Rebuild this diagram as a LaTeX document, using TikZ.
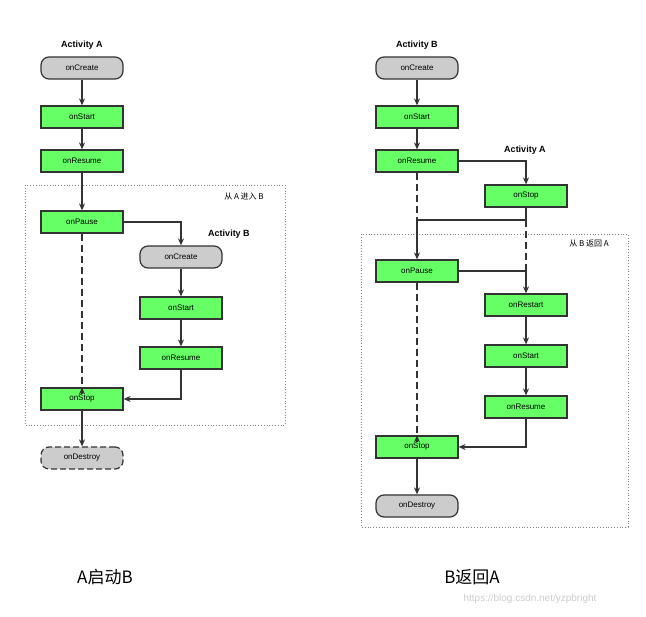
\documentclass[tikz,border=0pt]{standalone}
\usepackage{fontspec}
\setmainfont{Liberation Sans}
\newfontfamily\cjk{Noto Sans CJK SC}
\usetikzlibrary{arrows.meta}
\definecolor{gr}{HTML}{66FF66}
\definecolor{gy}{HTML}{CCCCCC}
\definecolor{ln}{HTML}{333333}
\begin{document}
\begin{tikzpicture}[x=1pt,y=-1pt,
 box/.style={draw=ln,line width=1.2pt,fill=gr,minimum width=82pt,minimum height=22pt,inner sep=0pt,font=\fontsize{8}{9}\selectfont},
 rbox/.style={box,fill=gy,rounded corners=8pt},
 ttl/.style={font=\bfseries\fontsize{9}{10}\selectfont},
 arr/.style={draw=ln,line width=1.2pt,-{Stealth[length=7pt,width=6pt]}},
 ln/.style={draw=ln,line width=1.2pt},
 dl/.style={draw=ln,line width=1.2pt,dash pattern=on 7pt off 4pt},
 frm/.style={draw=gray,dotted,line width=0.8pt},
 lab/.style={font=\cjk\fontsize{8}{9}\selectfont},
 captxt/.style={font=\cjk\fontsize{17}{19}\selectfont}]
\useasboundingbox (0,0) rectangle (646,617);
% left
\draw[frm] (25,185) rectangle (285,425);
\node[lab] (l1) at (244,197) {从 A 进入 B};
\node[ttl] (ta) at (82,45) {Activity A};
\node[rbox] (ac) at (82,68) {onCreate};
\node[box] (as) at (82,117) {onStart};
\node[box] (ar) at (82,161) {onResume};
\node[box] (ap) at (82,222) {onPause};
\node[box] (ao) at (82,399) {onStop};
\node[rbox,dash pattern=on 6pt off 3pt] (ad) at (82,458) {onDestroy};
\node[ttl] (tb) at (229,234) {Activity B};
\node[rbox] (bc) at (181,257) {onCreate};
\node[box] (bs) at (181,308) {onStart};
\node[box] (br) at (181,358) {onResume};
\draw[arr] (ac)--(as); \draw[arr] (as)--(ar); \draw[arr] (ar)--(ap);
\draw[arr] (ap.east) -| (bc.north);
\draw[arr] (bc)--(bs); \draw[arr] (bs)--(br);
\draw[arr] (br.south) |- (ao.east);
\draw[dl] (ap.south)--([yshift=-7pt]ao.north);
\draw[arr] ([yshift=-7pt]ao.north)--(ao.north);
\draw[arr] (ao)--(ad);
% right
\draw[frm] (361,234) rectangle (628,527);
\node[lab] (l2) at (589,244) {从 B 返回 A};
\node[ttl] (tb2) at (417,45) {Activity B};
\node[rbox] (cc) at (417,68) {onCreate};
\node[box] (cs) at (417,117) {onStart};
\node[box] (cr) at (417,161) {onResume};
\node[box] (cp) at (417,271) {onPause};
\node[box] (co) at (417,447) {onStop};
\node[rbox] (cd) at (417,506) {onDestroy};
\node[ttl] (ta2) at (525,150) {Activity A};
\node[box] (do) at (526,196) {onStop};
\node[box] (dr) at (526,305) {onRestart};
\node[box] (ds) at (526,356) {onStart};
\node[box] (de) at (526,407) {onResume};
\coordinate (j1) at (417,220);
\coordinate (j2) at (526,220);
\coordinate (j3) at (526,271);
\draw[arr] (cc)--(cs); \draw[arr] (cs)--(cr);
\draw[arr] (cr.east) -| (do.north);
\draw[dl] (cr.south)--(j1);
\draw[ln] (j1)--(j2);
\draw[arr] (j1)--(cp.north);
\draw[ln] (do.south)--(j2);
\draw[dl] (j2)--(j3);
\draw[ln] (cp.east)--(j3);
\draw[arr] (j3)--(dr.north);
\draw[arr] (dr)--(ds); \draw[arr] (ds)--(de);
\draw[arr] (de.south) |- (co.east);
\draw[dl] (cp.south)--([yshift=-7pt]co.north);
\draw[arr] ([yshift=-7pt]co.north)--(co.north);
\draw[arr] (co)--(cd);
% captions
\node[captxt] (k1) at (105,577) {A启动B};
\node[captxt] (k2) at (472,577) {B返回A};
\node[font=\fontsize{10}{12}\selectfont,text=gray!40] (w) at (530,599) {https://blog.csdn.net/yzpbright};
\end{tikzpicture}
\end{document}
